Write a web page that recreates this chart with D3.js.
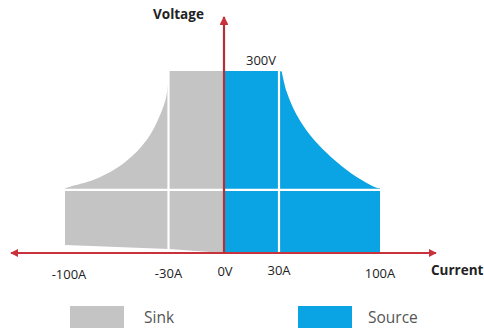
<!DOCTYPE html>
<html><head><meta charset="utf-8">
<script src="https://cdn.jsdelivr.net/npm/d3@7"></script>
<style>body{margin:0;background:#fff}svg{display:block}text{font-family:"Open Sans","Noto Sans",sans-serif}</style>
</head><body><svg id="c" width="484" height="329"></svg>
<script>
// Data (current in A, voltage in V)
const tickCurrents = [-100, -30, 0, 30, 100];
const tickLabels = ["-100A", "-30A", "0V", "30A", "100A"];
const maxVoltage = 300;
const gridVoltage = 104;
// Source: power-limit curve
const sourceCurve = [[31.9,299],[35.3,266],[42.3,227.5],[51.5,194.5],[63.1,164.8],[76.9,136.8],[90.8,115.4],[97.7,107.5],[100,106.5]];
// Sink: power-limit curve
const sinkCurve = [[-100,106.5],[-96.6,109.3],[-80.9,120.2],[-65,140],[-51.5,167],[-42.5,194.5],[-35.7,227.5],[-31.7,255.5],[-30.1,285]];
const sinkBottom = [[-100,13],[-30,6.5],[0,0]];
const legendItems = ["Sink", "Source"];
const colors = {Sink: "#c4c4c4", Source: "#0aa3e3"};

const svg = d3.select("#c");
const x = d3.scaleLinear().domain(tickCurrents).range([65, 168.5, 224, 279, 380]);
const y = d3.scaleLinear().domain([0, maxVoltage]).range([253, 71]);

const line = d3.line().x(d => x(d[0])).y(d => y(d[1])).curve(d3.curveCatmullRom.alpha(0.5));

// Sink area
let sinkStr = `M${x(-30)},${y(maxVoltage)}L${x(0)},${y(maxVoltage)}L${x(0)},${y(0)}` +
  `L${x(sinkBottom[1][0])},${y(sinkBottom[1][1])}L${x(sinkBottom[0][0])},${y(sinkBottom[0][1])}` +
  line(sinkCurve).replace(/^M/, "L") + "Z";
svg.append("path").attr("d", sinkStr).attr("fill", colors.Sink);

// Source area
let srcStr = `M${x(0)},${y(0)}L${x(0)},${y(maxVoltage)}L${x(30)},${y(maxVoltage)}` + line(sourceCurve).replace(/^M/, "L") + `L${x(100)},${y(0)}Z`;
svg.append("path").attr("d", srcStr).attr("fill", colors.Source);

// White grid lines
const grid = svg.append("g").attr("stroke", "#fff").attr("stroke-width", 2.2);
grid.append("line").attr("x1", x(-100)).attr("x2", x(100)).attr("y1", y(gridVoltage)).attr("y2", y(gridVoltage));
grid.append("line").attr("x1", x(-30)).attr("x2", x(-30)).attr("y1", y(maxVoltage) - 2).attr("y2", y(0) + 2);
grid.append("line").attr("x1", x(30)).attr("x2", x(30)).attr("y1", y(maxVoltage) - 2).attr("y2", y(0));

// Axes
const red = "#c8323c";
const defs = svg.append("defs");
defs.append("marker").attr("id", "ah").attr("viewBox", "0 0 10 10").attr("refX", 9).attr("refY", 5)
  .attr("markerWidth", 4).attr("markerHeight", 4).attr("orient", "auto-start-reverse")
  .append("path").attr("d", "M0,0L10,5L0,10Z").attr("fill", red);
svg.append("line").attr("x1", 11).attr("x2", 436).attr("y1", y(0)).attr("y2", y(0))
  .attr("stroke", red).attr("stroke-width", 2)
  .attr("marker-start", "url(#ah)").attr("marker-end", "url(#ah)");
svg.append("line").attr("x1", x(0)).attr("x2", x(0)).attr("y1", y(0)).attr("y2", 17)
  .attr("stroke", "#b2303a").attr("stroke-width", 2.2).attr("marker-end", "url(#ah)");

// Tick labels
const tickY = {"-100": 279, "-30": 278, "0": 276, "30": 275, "100": 278};
svg.append("g").selectAll("text").data(tickCurrents).join("text")
  .attr("x", d => x(d) + (d === 0 ? 1 : d === -100 ? 4 : 0)).attr("y", d => tickY[d])
  .attr("text-anchor", "middle").attr("font-size", 13).attr("fill", "#222")
  .text((d, i) => tickLabels[i]);

svg.append("text").attr("x", 431).attr("y", 275).attr("font-size", 13.5).attr("font-weight", "bold").attr("fill", "#222").text("Current");
svg.append("text").attr("x", 153).attr("y", 19).attr("font-size", 13.5).attr("font-weight", "bold").attr("fill", "#222").text("Voltage");
svg.append("text").attr("x", 246).attr("y", 65).attr("font-size", 13).attr("fill", "#222").text(maxVoltage + "V");

// Legend
const lg = svg.append("g").selectAll("g").data(legendItems).join("g")
  .attr("transform", (d, i) => `translate(${i === 0 ? 70 : 298},306)`);
lg.append("rect").attr("width", 54).attr("height", 22).attr("fill", d => colors[d]);
lg.append("text").attr("x", d => d === "Sink" ? 74 : 70).attr("y", 17).attr("font-size", 15.5).attr("fill", "#555").text(d => d);
</script></body></html>
